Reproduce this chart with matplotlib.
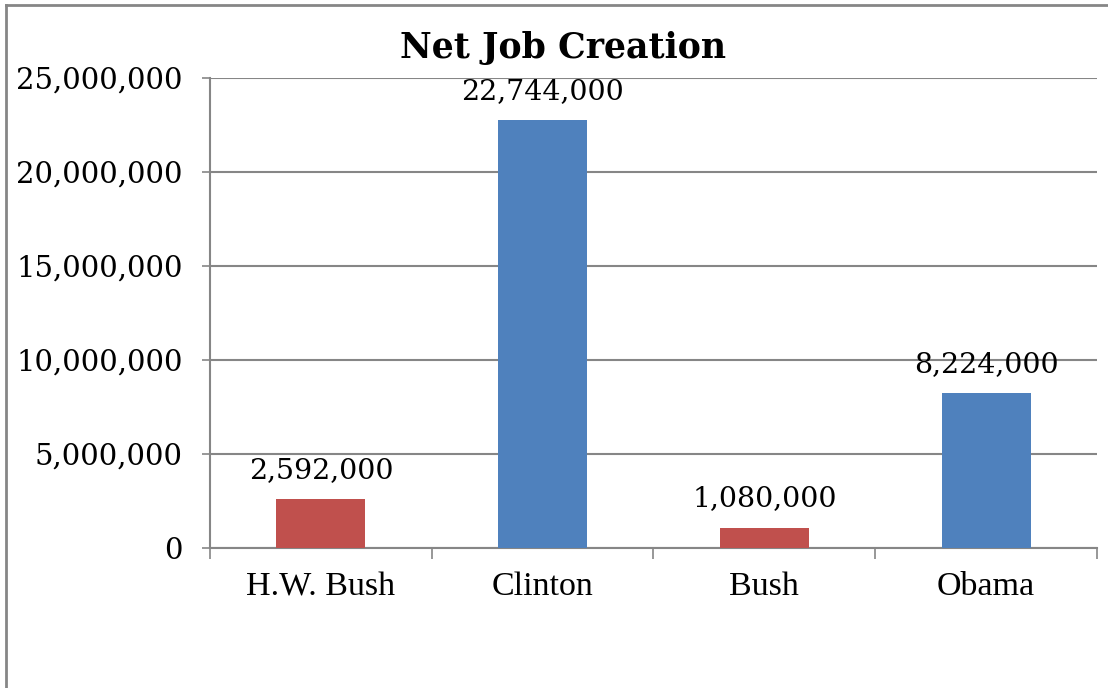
import matplotlib
matplotlib.use("Agg")
import matplotlib.pyplot as plt
from matplotlib.ticker import FuncFormatter, FixedLocator, NullFormatter
from matplotlib.lines import Line2D

categories = ["H.W. Bush", "Clinton", "Bush", "Obama"]
values = [2592000, 22744000, 1080000, 8224000]
colors = ["#C0504D", "#4F81BD", "#C0504D", "#4F81BD"]
yticks = [0, 5000000, 10000000, 15000000, 20000000, 25000000]
title = "Net Job Creation"

fig = plt.figure(figsize=(11.08, 6.88), dpi=100)
ax = fig.add_axes([0.1895, 0.2035, 0.8006, 0.6831])

x = list(range(len(categories)))
ax.bar(x, values, width=0.40, color=colors, zorder=3)
ax.set_xlim(-0.5, len(categories) - 0.5)
ax.set_ylim(0, 25000000)

grid_c = "#868686"
ax.set_yticks(yticks)
ax.yaxis.set_major_formatter(FuncFormatter(lambda v, p: f"{int(v):,}"))
ax.yaxis.grid(True, color=grid_c, linewidth=1.5, zorder=0)
ax.tick_params(axis="y", length=5.8, width=1.2, color=grid_c, pad=14,
               labelsize=21, labelcolor="black")
for lbl in ax.get_yticklabels():
    lbl.set_fontfamily("DejaVu Serif")

ax.set_xticks(x)
ax.set_xticklabels(categories, fontsize=24.5, fontfamily="Liberation Serif")
ax.xaxis.set_minor_locator(FixedLocator([i - 0.5 for i in range(len(categories) + 1)]))
ax.xaxis.set_minor_formatter(NullFormatter())
ax.tick_params(axis="x", which="major", length=0, pad=17)
ax.tick_params(axis="x", which="minor", length=8, width=1.2, color=grid_c)

for s in ["top", "right"]:
    ax.spines[s].set_visible(False)
for s in ["left", "bottom"]:
    ax.spines[s].set_color(grid_c)
    ax.spines[s].set_linewidth(1.5)

for xi, v in zip(x, values):
    ax.annotate(f"{v:,}", (xi, v), xytext=(0, 11), textcoords="offset points",
                ha="center", va="bottom", fontsize=20.5, fontfamily="DejaVu Serif")

fig.text(0.508, 0.930, title, ha="center", va="center", fontsize=25,
         fontweight="bold", fontfamily="DejaVu Serif")

# outer chart border (top and left visible)
fig.add_artist(Line2D([6 / 1108, 1], [1 - 5 / 688, 1 - 5 / 688], transform=fig.transFigure,
                      color=grid_c, linewidth=2))
fig.add_artist(Line2D([6 / 1108, 6 / 1108], [0, 1 - 5 / 688], transform=fig.transFigure,
                      color=grid_c, linewidth=2))

fig.savefig("out.png", dpi=100)
